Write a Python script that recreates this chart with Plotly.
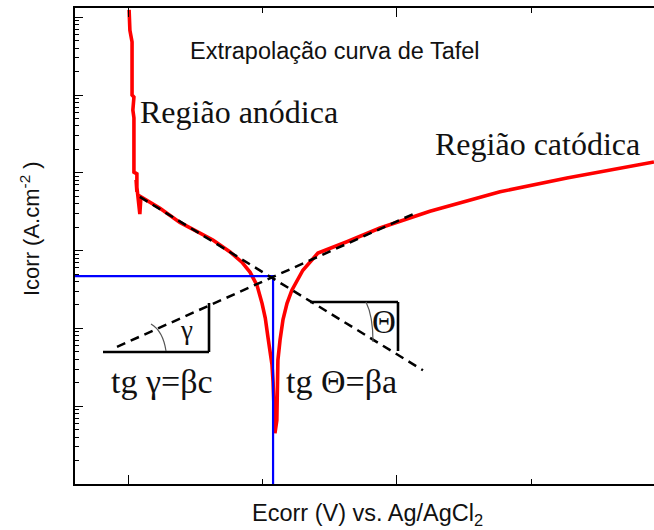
import plotly.graph_objects as go

# Potentiodynamic polarization curve (potential in V vs. Ag/AgCl, current density in A/cm2)
E_curve = [-0.997, -0.994, -0.986, -0.986, -0.979, -0.983, -0.979, -0.979, -0.968, -0.968,
           -0.971, -0.964, -0.957, -0.953, -0.882, -0.808, -0.733, -0.685, -0.621, -0.577,
           -0.547, -0.521, -0.502, -0.490, -0.480, -0.465, -0.461, -0.458, -0.454, -0.447,
           -0.445, -0.443, -0.435, -0.424, -0.409, -0.391, -0.350, -0.294, -0.186, -0.063,
           0.123, 0.384, 0.633, 0.957]
I_curve = [1.24e-3, 6.8e-4, 4.8e-4, 1.0e-4, 9.4e-5, 6.4e-5, 5.1e-5, 1.02e-5, 9.7e-6, 5.7e-6,
           8.1e-6, 4.9e-6, 2.95e-6, 4.9e-6, 3.5e-6, 2.3e-6, 1.7e-6, 1.37e-6, 9.6e-7, 7.1e-7,
           5.3e-7, 3.6e-7, 2.1e-7, 1.36e-7, 7.7e-8, 3.4e-8, 2.05e-8, 1.2e-8, 4.5e-9, 6.6e-9,
           1.6e-8, 3.9e-8, 7.1e-8, 1.3e-7, 2.1e-7, 3.1e-7, 5.6e-7, 9.3e-7, 1.3e-6, 1.95e-6,
           3.2e-6, 5.7e-6, 8.6e-6, 1.38e-5]

# Tafel extrapolation lines
E_tafel_a = [-0.957, 0.097]
I_tafel_a = [4.9e-6, 2.9e-8]
E_tafel_c = [-1.042, 0.075]
I_tafel_c = [5.8e-8, 3.1e-6]

# Corrosion point
E_corr = -0.461
I_corr = 4.7e-7

# Axis extents
E_range = [-1.1984, 0.9572]
logI_range = [-9, -2.8817]

# Plot area in pixels (for placing text and slope triangles)
W, H = 654, 530
L, T, B = 75, 8, 46
PW, PH = W - L, H - T - B


def px(x):
    return (x - L) / PW


def py(y):
    return (H - B - y) / PH


fig = go.Figure()

fig.add_trace(go.Scatter(x=E_curve, y=I_curve, mode="lines",
                         line=dict(color="#ff0000", width=3.6)))
fig.add_trace(go.Scatter(x=[E_range[0], E_corr, E_corr], y=[I_corr, I_corr, 10 ** logI_range[0]],
                         mode="lines", line=dict(color="#0000ff", width=2.2)))
fig.add_trace(go.Scatter(x=E_tafel_a, y=I_tafel_a, mode="lines",
                         line=dict(color="black", width=2.5, dash="9px,6px")))
fig.add_trace(go.Scatter(x=E_tafel_c, y=I_tafel_c, mode="lines",
                         line=dict(color="black", width=2.5, dash="9px,6px")))

# Slope triangles and angle arcs
line_k = dict(color="black", width=2.6)
arc_k = dict(color="#555555", width=1.2)
shapes = [
    dict(type="line", xref="paper", yref="paper", x0=px(103), y0=py(352), x1=px(209), y1=py(352), line=line_k),
    dict(type="line", xref="paper", yref="paper", x0=px(209), y0=py(352), x1=px(209), y1=py(303), line=line_k),
    dict(type="line", xref="paper", yref="paper", x0=px(310), y0=py(302), x1=px(398), y1=py(302), line=line_k),
    dict(type="line", xref="paper", yref="paper", x0=px(398), y0=py(302), x1=px(398), y1=py(351), line=line_k),
    dict(type="path", xref="paper", yref="paper",
         path=f"M {px(151)} {py(324)} Q {px(163)} {py(331)} {px(166)} {py(351)}", line=arc_k),
    dict(type="path", xref="paper", yref="paper",
         path=f"M {px(366)} {py(302)} Q {px(373)} {py(316)} {px(373)} {py(342)}", line=arc_k),
]

sans = "Liberation Sans, Arial, sans-serif"
serif = "Liberation Serif, Times New Roman, serif"


def label(text, x, y, size, family, angle=0):
    return dict(text=text, xref="paper", yref="paper", x=px(x), y=py(y),
                xanchor="center", yanchor="middle", showarrow=False, textangle=angle,
                font=dict(family=family, size=size, color="#111111"))


annotations = [
    label("Extrapolação curva de Tafel", 335, 51, 23.5, sans),
    label("Região anódica", 239, 112, 32, serif),
    label("Região catódica", 537, 144, 32, serif),
    label("tg γ=βc", 162, 381, 34, serif),
    label("tg Θ=βa", 341, 381, 34, serif),
    label("γ", 186, 330, 27, serif),
    label("Θ", 384, 322, 33, serif),
    label("Ecorr (V) vs. Ag/AgCl<sub>2</sub>", 368, 514, 23.5, sans),
    label("Icorr (A.cm<sup>-2</sup> )", 30, 229, 22, sans, -90),
]

fig.update_layout(
    width=W, height=H,
    margin=dict(l=L, r=0, t=T, b=B),
    paper_bgcolor="white", plot_bgcolor="white",
    showlegend=False,
    shapes=shapes,
    annotations=annotations,
    xaxis=dict(range=E_range, showgrid=False, zeroline=False, showline=True,
               linecolor="black", linewidth=1.5, mirror="ticks",
               ticks="inside", tick0=-1, dtick=1, ticklen=9, tickwidth=1.2, tickcolor="black",
               minor=dict(ticks="inside", tick0=-1, dtick=0.5, ticklen=5, tickwidth=1.2,
                          tickcolor="black", showgrid=False),
               showticklabels=False),
    yaxis=dict(type="log", range=logI_range, showgrid=False, zeroline=False, showline=True,
               linecolor="black", linewidth=1.5, mirror=False,
               ticks="inside", dtick=1, ticklen=8, tickwidth=1.2, tickcolor="black",
               minor=dict(ticks="inside", dtick="D1", ticklen=4, tickwidth=1, tickcolor="black",
                          showgrid=False),
               showticklabels=False),
)

fig.write_html("out.html")
